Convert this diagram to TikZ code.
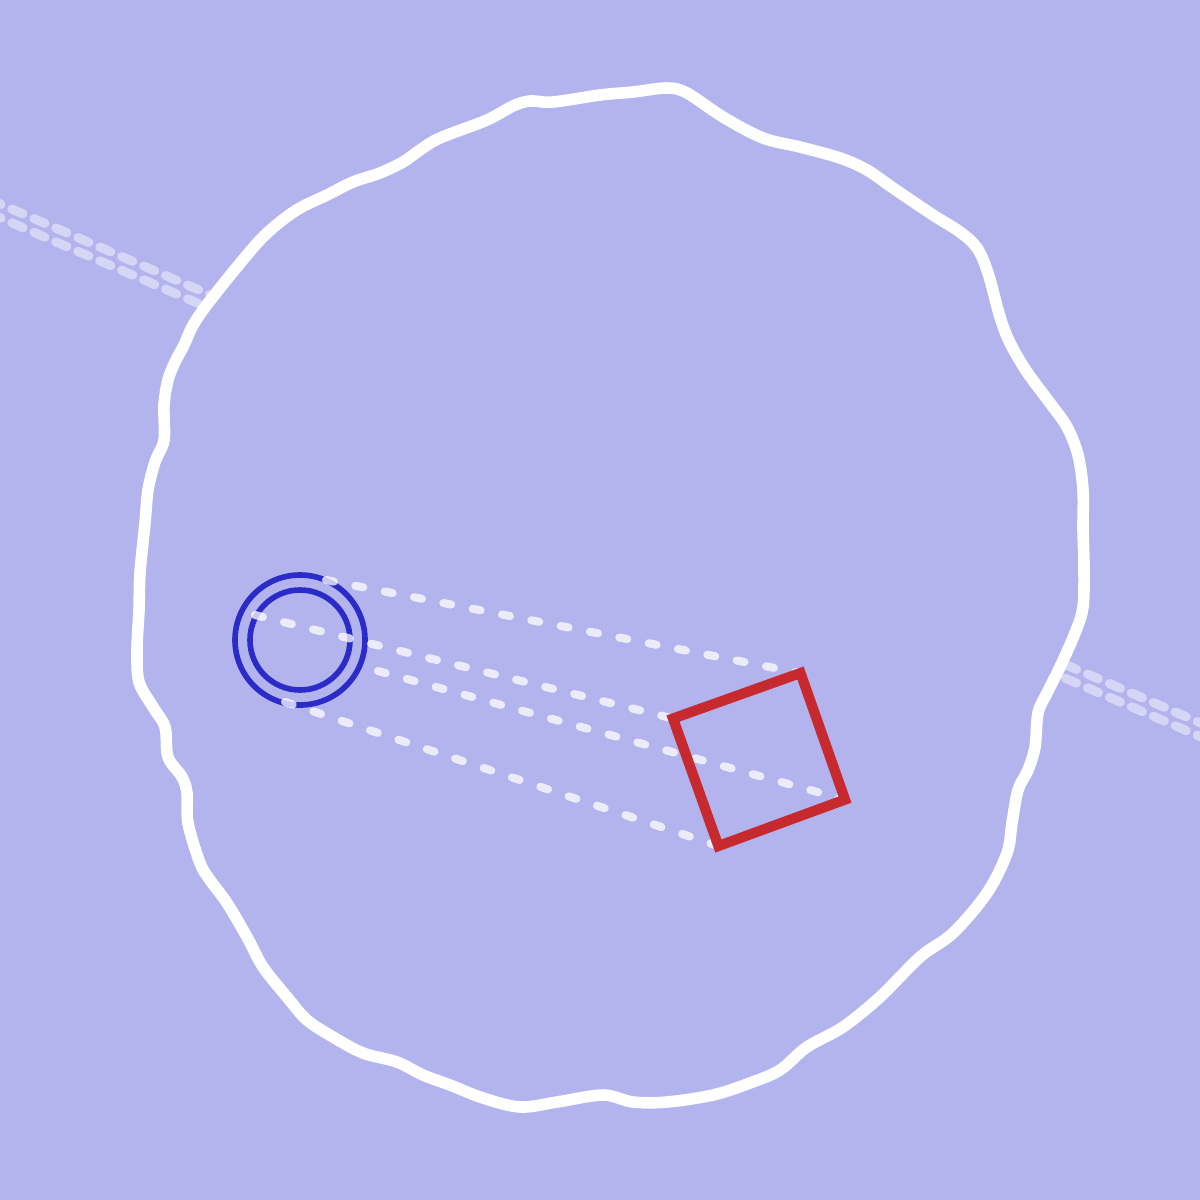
\documentclass[tikz,border=0pt]{standalone}
\usetikzlibrary{calc}
\definecolor{bgc}{HTML}{B3B3EE}
\definecolor{ringblue}{HTML}{2B2BC8}
\definecolor{boxred}{HTML}{C62A2E}
\tikzset{
  bgdash/.style={white, opacity=0.45, line width=2.6pt, line cap=round, dash pattern=on 3.4pt off 3.4pt},
  dotline/.style={white, opacity=0.75, line width=2.3pt, line cap=round, dash pattern=on 2.3pt off 6.2pt},
  blobline/.style={draw=white, fill=bgc, line width=3.3pt, line join=round},
  ring/.style={draw=ringblue, line width=1.6pt},
  boxline/.style={draw=boxred, line width=2.9pt, line join=miter},
}
\begin{document}
\begin{tikzpicture}[x=0.01cm, y=-0.01cm]
\fill[bgc] (0,0) rectangle (1200,1200);
\useasboundingbox (0,0) rectangle (1200,1200);
\begin{scope}
\clip (0,0) rectangle (1200,1200);
% background double dashed line
\draw[bgdash] (-10,199.6) -- (1210,727.0);
\draw[bgdash] (-10,213.4) -- (1210,740.8);
% wavy blob
\draw[blobline] plot[smooth cycle, tension=0.55] coordinates {
(667,88) (687,93) (723,117) (763,138) (800,147) (840,158) (867,170) (893,188)
(933,215) (960,232) (977,248) (988,273) (1000,317) (1010,343) (1027,372)
(1050,403) (1067,427) (1078,455) (1083,490) (1083,530) (1084,567) (1083,607)
(1075,633) (1060,667) (1047,693) (1038,713) (1035,747) (1028,770) (1018,790)
(1012,823) (1007,853) (987,893) (953,933) (920,957) (880,997) (843,1027)
(807,1047) (780,1070) (750,1083) (713,1095) (667,1102) (633,1102) (603,1095)
(557,1102) (520,1107) (483,1098) (450,1085) (423,1075) (397,1062) (363,1053)
(333,1037) (307,1020) (287,997) (263,967) (247,937) (227,903) (210,880)
(200,863) (188,823) (187,793) (182,777) (168,757) (165,727) (153,707)
(139,682) (137,650) (139,610) (140,573) (145,523) (148,490) (155,462)
(164,440) (164,405) (168,380) (175,362) (184,345) (192,327) (203,310)
(220,288) (237,267) (260,240) (280,222) (300,208) (327,195) (353,182)
(380,173) (403,162) (420,150) (440,138) (487,120) (513,106) (530,101)
(553,102) (600,95) (633,92)};
\end{scope}
% rings
\coordinate (rc) at (300,640);
\draw[ring] (rc) circle[radius=65];
\draw[ring] (rc) circle[radius=50];
% square corners
\coordinate (sqT) at (800.5,673);
\coordinate (sqL) at (673,718.5);
\coordinate (sqR) at (845,799.6);
\coordinate (sqB) at (718.4,846);
% start points on rings
\coordinate (s1) at (326,580);
\coordinate (s2) at (255,615);
\coordinate (s3) at (378,671);
\coordinate (s4) at (285,702);
\draw[dotline] (s1) -- (sqT);
\draw[dotline] (s2) -- (sqL);
\draw[dotline] (s3) -- (sqR);
\draw[dotline] (s4) -- (sqB);
% red square
\draw[boxline] (sqL) -- (sqT) -- (sqR) -- (sqB) -- cycle;
\end{tikzpicture}
\end{document}
